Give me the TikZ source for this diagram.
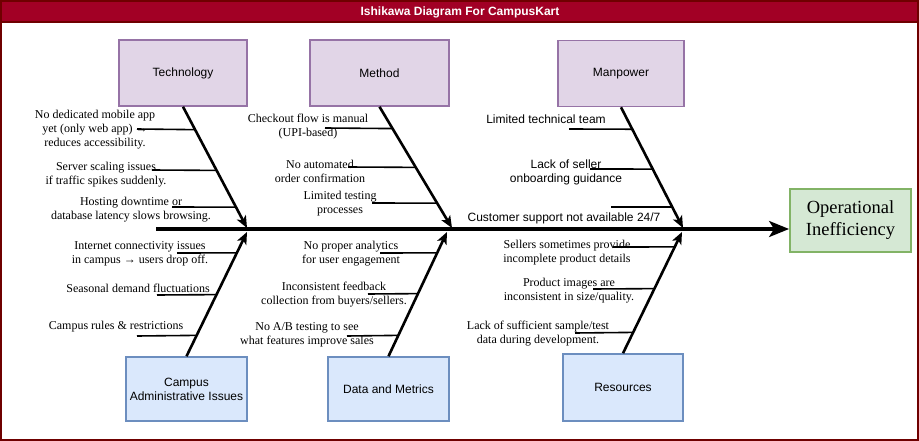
\documentclass[tikz,border=0pt]{standalone}
\usepackage{fontspec}
\setmainfont{Liberation Serif}
\setsansfont{Liberation Sans}
\usetikzlibrary{arrows.meta,calc}
\definecolor{titlered}{HTML}{A20025}
\definecolor{framered}{HTML}{6F0000}
\definecolor{purfill}{HTML}{E1D5E7}
\definecolor{purline}{HTML}{9673A6}
\definecolor{bluefill}{HTML}{DAE8FC}
\definecolor{blueline}{HTML}{6C8EBF}
\definecolor{grnfill}{HTML}{D5E8D4}
\definecolor{grnline}{HTML}{82B366}
\tikzset{
  causetop/.style={draw=purline,fill=purfill,line width=1.5pt,minimum height=66pt,inner sep=0pt,font=\sffamily\fontsize{12}{14}\selectfont,align=center},
  causebot/.style={draw=blueline,fill=bluefill,line width=1.5pt,minimum height=64pt,inner sep=0pt,font=\sffamily\fontsize{12}{14}\selectfont,align=center},
  effectbox/.style={draw=grnline,fill=grnfill,line width=1.8pt,minimum width=121pt,minimum height=63pt,inner sep=0pt,font=\rmfamily\fontsize{18.5}{22}\selectfont,align=center},
  bone/.style={line width=2.6pt,-{Stealth[length=12pt,width=10pt,inset=3pt]}},
  spine/.style={line width=3.2pt,-{Stealth[length=20pt,width=16pt,inset=5pt]}},
  sub/.style={line width=1.6pt},
  sertxt/.style={font=\rmfamily\fontsize{12}{14}\selectfont,align=center,inner sep=0pt},
  santxt/.style={font=\sffamily\fontsize{12}{14}\selectfont,align=center,inner sep=0pt},
}
\begin{document}
\begin{tikzpicture}[x=1pt,y=-1pt]
\useasboundingbox (0,0) rectangle (919,441);
% frame and title
\fill[white] (0,0) rectangle (919,441);
\fill[titlered] (1,1) rectangle (918,22);
\draw[framered,line width=1.5pt] (1,22) -- (918,22);
\draw[framered,line width=2pt] (1,1) rectangle (918,440);
\node[font=\sffamily\bfseries\fontsize{12}{14}\selectfont,text=white] (title) at (460,12) {Ishikawa Diagram For CampusKart};

% cause boxes
\node[causetop,minimum width=128pt] (tech) at (183,73) {Technology};
\node[causetop,minimum width=139pt] (method) at (379.5,73) {Method};
\node[causetop,minimum width=126pt] (man) at (621,73.5) {Manpower};
\node[causebot,minimum width=121pt] (campus) at (186.5,389) {Campus\\Administrative Issues};
\node[causebot,minimum width=121pt] (data) at (388.5,389) {Data and Metrics};
\node[causebot,minimum width=120pt,minimum height=67pt] (res) at (623,387.5) {Resources};
\node[effectbox] (eff) at (850.5,220.5) {Operational\\Inefficiency};

% spine
\coordinate (tail) at (156,229);
\coordinate (head) at (eff.west |- tail);
\draw[spine] (tail) -- (head);

% bone tips
\coordinate (tj) at (247,228);
\coordinate (mj) at (452,228);
\coordinate (pj) at (683,228);
\coordinate (cj) at (247,232);
\coordinate (dj) at (447,232);
\coordinate (rj) at (682,232);

\draw[bone] (tech.south) -- (tj);
\draw[bone] (method.south) -- (mj);
\draw[bone] (man.south) -- (pj);
\draw[bone] (campus.north) -- (cj);
\draw[bone] (data.north) -- (dj);
\draw[bone] (res.north) -- (rj);

% sub-bone start points
\coordinate (ts1) at (137,129); \coordinate (ts2) at (152,170); \coordinate (ts3) at (172,207);
\coordinate (ms1) at (325,128); \coordinate (ms2) at (348,167); \coordinate (ms3) at (372,203);
\coordinate (ps1) at (569,129); \coordinate (ps2) at (590,169); \coordinate (ps3) at (611,207);
\coordinate (cs1) at (177,253); \coordinate (cs2) at (157,295); \coordinate (cs3) at (137,336);
\coordinate (ds1) at (380,253); \coordinate (ds2) at (368,294); \coordinate (ds3) at (347,336);
\coordinate (rs1) at (613,247); \coordinate (rs2) at (593,289); \coordinate (rs3) at (575,333);

% sub-bones
\draw[sub] (ts1) -- ($(tech.south)!0.189!(tj)$);
\draw[sub] (ts2) -- ($(tech.south)!0.525!(tj)$);
\draw[sub] (ts3) -- ($(tech.south)!0.828!(tj)$);
\draw[sub] (ms1) -- ($(method.south)!0.180!(mj)$);
\draw[sub] (ms2) -- ($(method.south)!0.500!(mj)$);
\draw[sub] (ms3) -- ($(method.south)!0.795!(mj)$);
\draw[sub] (ps1) -- ($(man.south)!0.182!(pj)$);
\draw[sub] (ps2) -- ($(man.south)!0.512!(pj)$);
\draw[sub] (ps3) -- ($(man.south)!0.826!(pj)$);
\draw[sub] (cs1) -- ($(campus.north)!0.832!(cj)$);
\draw[sub] (cs2) -- ($(campus.north)!0.496!(cj)$);
\draw[sub] (cs3) -- ($(campus.north)!0.168!(cj)$);
\draw[sub] (ds1) -- ($(data.north)!0.832!(dj)$);
\draw[sub] (ds2) -- ($(data.north)!0.504!(dj)$);
\draw[sub] (ds3) -- ($(data.north)!0.168!(dj)$);
\draw[sub] (rs1) -- ($(res.north)!0.877!(rj)$);
\draw[sub] (rs2) -- ($(res.north)!0.533!(rj)$);
\draw[sub] (rs3) -- ($(res.north)!0.172!(rj)$);

% labels - Technology
\node[sertxt] (t1) at (95,130) {No dedicated mobile app\\yet (only web app) →\\reduces accessibility.};
\node[sertxt] (t2) at (106,174.5) {Server scaling issues\\if traffic spikes suddenly.};
\node[sertxt] (t3) at (131,210) {Hosting downtime or\\database latency slows browsing.};
% Method
\node[sertxt] (m1) at (308,127) {Checkout flow is manual\\(UPI-based)};
\node[sertxt] (m2) at (320,171) {No automated\\order confirmation};
\node[sertxt] (m3) at (340,203.5) {Limited testing\\processes};
% Manpower
\node[santxt] (p1) at (546,119.5) {Limited technical team};
\node[santxt] (p2) at (566,172.5) {Lack of seller\\onboarding guidance};
\node[santxt] (p3) at (564,218.5) {Customer support not available 24/7};
% Campus
\node[sertxt] (c1) at (140,254) {Internet connectivity issues\\in campus → users drop off.};
\node[sertxt] (c2) at (138,288) {Seasonal demand fluctuations};
\node[sertxt] (c3) at (116,327) {Campus rules \& restrictions};
% Data
\node[sertxt] (d1) at (351,253.5) {No proper analytics\\for user engagement};
\node[sertxt] (d2) at (334,295) {Inconsistent feedback\\collection from buyers/sellers.};
\node[sertxt] (d3) at (307,334.5) {No A/B testing to see\\what features improve sales};
% Resources
\node[sertxt] (r1) at (567,252.5) {Sellers sometimes provide\\incomplete product details};
\node[sertxt] (r2) at (569,290.5) {Product images are\\inconsistent in size/quality.};
\node[sertxt] (r3) at (538,333.5) {Lack of sufficient sample/test\\data during development.};
\end{tikzpicture}
\end{document}
